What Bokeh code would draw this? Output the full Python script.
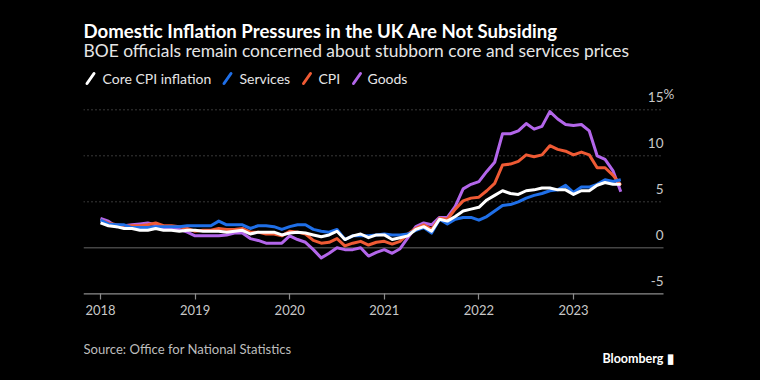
import numpy as np
from bokeh.plotting import figure
from bokeh.layouts import column
from bokeh.models import (Label, LabelSet, Arrow, FixedTicker, ColumnDataSource)
from bokeh.core.properties import value
from bokeh.embed import file_html
from bokeh.resources import INLINE

# ---------------- data (monthly, Jan 2018 - Jul 2023, % y/y) ----------------
start_year = 2018
core = [2.7, 2.4, 2.3, 2.1, 2.1, 1.9, 1.9, 2.1, 1.9, 1.9, 1.8, 1.9,
        1.9, 1.8, 1.8, 1.8, 1.7, 1.8, 1.9, 1.5, 1.7, 1.7, 1.7, 1.4,
        1.6, 1.7, 1.6, 1.4, 1.2, 1.4, 1.8, 0.9, 1.3, 1.5, 1.1, 1.4,
        1.4, 0.9, 1.1, 1.3, 2.0, 2.3, 1.8, 3.1, 2.9, 3.4, 4.0, 4.2,
        4.4, 5.2, 5.7, 6.2, 5.9, 5.8, 6.2, 6.3, 6.5, 6.5, 6.3, 6.3,
        5.8, 6.2, 6.2, 6.8, 7.1, 6.9, 6.9]
services = [3.0, 2.6, 2.5, 2.5, 2.2, 2.2, 2.2, 2.3, 2.3, 2.3, 2.3, 2.4,
            2.4, 2.4, 2.4, 2.9, 2.5, 2.5, 2.5, 2.1, 2.4, 2.4, 2.3, 2.0,
            2.3, 2.5, 2.5, 2.0, 1.8, 1.7, 2.0, 0.9, 1.3, 1.3, 1.3, 1.4,
            1.5, 1.4, 1.4, 1.5, 1.9, 2.2, 1.6, 3.1, 2.6, 3.1, 3.3, 3.3,
            3.0, 3.4, 4.0, 4.6, 4.7, 5.0, 5.4, 5.7, 5.9, 6.2, 6.3, 6.8,
            6.0, 6.6, 6.6, 6.9, 7.4, 7.2, 7.4]
cpi = [3.0, 2.7, 2.5, 2.4, 2.4, 2.4, 2.5, 2.7, 2.4, 2.4, 2.3, 2.1,
       1.8, 1.9, 1.9, 2.1, 2.0, 2.0, 2.1, 1.7, 1.7, 1.5, 1.5, 1.3,
       1.8, 1.7, 1.5, 0.8, 0.5, 0.6, 1.0, 0.2, 0.5, 0.7, 0.3, 0.6,
       0.7, 0.4, 0.7, 1.5, 2.1, 2.5, 2.0, 3.2, 3.1, 4.2, 5.1, 5.4,
       5.5, 6.2, 7.0, 9.0, 9.1, 9.4, 10.1, 9.9, 10.1, 11.1, 10.7, 10.5,
       10.1, 10.4, 10.1, 8.7, 8.7, 7.9, 6.8]
goods = [3.2, 2.9, 2.3, 2.4, 2.5, 2.6, 2.7, 2.5, 2.1, 2.1, 2.0, 1.7,
         1.3, 1.3, 1.3, 1.3, 1.4, 1.6, 1.6, 1.0, 0.8, 0.5, 0.5, 0.5,
         1.3, 0.9, 0.6, -0.2, -1.1, -0.6, 0.0, -0.2, -0.2, 0.0, -0.9, -0.5,
         -0.2, -0.6, -0.1, 1.1, 2.3, 2.7, 2.5, 3.3, 3.3, 4.5, 6.4, 6.9,
         7.2, 8.3, 9.3, 12.4, 12.4, 12.7, 13.5, 12.9, 13.2, 14.8, 14.0, 13.4,
         13.3, 13.4, 12.7, 10.0, 9.6, 8.4, 6.1]

series_names = ["Core CPI inflation", "Services", "CPI", "Goods"]
series_colors = ["#ffffff", "#1f6fe8", "#ef5a34", "#b366ea"]

x_ticks = [2018, 2019, 2020, 2021, 2022, 2023]
x_tick_labels = ["2018", "2019", "2020", "2021", "2022", "2023"]
y_ticks = [-5, 0, 5, 10, 15]
y_tick_labels = ["-5", "0", "5", "10", "15"]
grid_values = [5, 10, 15]

title = "Domestic Inflation Pressures in the UK Are Not Subsiding"
subtitle = "BOE officials remain concerned about stubborn core and services prices"
source = "Source: Office for National Statistics"
brand = "Bloomberg"

# ---------------- layout constants ----------------
W, H = 760, 380
H_MAIN = 322                  # main figure height; footer figure below
FONT = "Lato"
FL = 83                       # frame left (px)
FB = 296                      # frame bottom (px from top)
x0, x1 = 2017.8203, 2024.9767  # frame spans the full width right of 83px
x_grid_end = 2023.9514         # where gridlines / axis stop
y0, y1 = -5.2935, 26.88
BG = "#000000"

p = figure(width=W, height=H_MAIN, output_backend="svg", toolbar_location=None,
           x_range=(x0, x1), y_range=(y0, y1), y_axis_location=None,
           min_border_left=FL, min_border_right=0,
           min_border_top=0, min_border_bottom=H_MAIN - FB)
p.background_fill_color = BG
p.border_fill_color = BG
p.outline_line_color = None
p.xgrid.visible = False
p.ygrid.visible = False

# dotted gridlines, zero line, baseline (drawn through the data scales)
p.segment(x0=x0, x1=x_grid_end, y0=grid_values, y1=grid_values,
          line_color="#707070", line_dash="1 3", line_width=1)
p.segment(x0=x0, x1=x_grid_end, y0=0, y1=0, line_color="#454545", line_width=1.5)
p.segment(x0=x0, x1=x_grid_end, y0=y_ticks[0], y1=y_ticks[0],
          line_color="#8c8c8c", line_width=1.2)

# x axis (ticks + labels)
xa = p.xaxis[0]
xa.ticker = FixedTicker(ticks=x_ticks)
xa.major_label_overrides = {t: l for t, l in zip(x_ticks, x_tick_labels)}
xa.axis_line_color = None
xa.major_tick_line_color = "#8c8c8c"
xa.major_tick_line_width = 1.2
xa.major_tick_out = 3
xa.major_tick_in = 3
xa.minor_tick_line_color = None
xa.major_label_text_color = "#c8c8c8"
xa.major_label_text_font = FONT
xa.major_label_text_font_size = "13px"
xa.major_label_standoff = 5

# lines
months = np.arange(len(core))
xs = start_year + months / 12.0
data = [core, services, cpi, goods]
for vals, col in reversed(list(zip(data, series_colors))):
    p.line(xs, vals, line_color=col, line_width=3, line_join="round")

# y tick labels (above gridlines, right aligned)
ysrc = ColumnDataSource(dict(x=[x_grid_end] * len(y_ticks), y=y_ticks,
                             t=y_tick_labels))
p.add_layout(LabelSet(x="x", y="y", text="t", source=ysrc, text_align="right",
                      text_baseline="bottom", y_offset=8,
                      text_color="#c8c8c8", text_font=value(FONT),
                      text_font_size="13.5px"))
p.add_layout(Label(x=x_grid_end, y=y_ticks[-1], text="%", text_align="left",
                   text_baseline="bottom", y_offset=8, text_color="#c8c8c8",
                   text_font=FONT, text_font_size="13.5px"))

# titles (screen units: relative to frame, y measured up from frame bottom)
p.add_layout(Label(x=0, y=FB - 30, x_units="screen", y_units="screen",
                   text=title, text_color="#ffffff", text_font=FONT,
                   text_font_style="bold", text_font_size="18.6px",
                   text_baseline="middle"))
p.add_layout(Label(x=0, y=FB - 50, x_units="screen", y_units="screen",
                   text=subtitle, text_color="#e6e6e6", text_font=FONT,
                   text_font_size="17.4px", text_baseline="middle"))

# legend
leg_text_x = [19, 156, 235, 284]
leg_slash_x = [3.5, 140.5, 220, 270]
for name, col, tx, sx in zip(series_names, series_colors, leg_text_x, leg_slash_x):
    p.add_layout(Arrow(end=None, x_start=sx, y_start=FB - 83, x_end=sx + 7,
                       y_end=FB - 73, start_units="screen", end_units="screen",
                       line_color=col, line_width=3, line_cap="round"))
    p.add_layout(Label(x=tx, y=FB - 78, x_units="screen", y_units="screen",
                       text=name, text_color="#e6e6e6", text_font=FONT,
                       text_font_size="14px", text_baseline="middle"))

# ---------------- footer (source + brand) ----------------
# (its frame is aligned by the column layout with the main frame: left = FL)
H_FOOT = H - H_MAIN
f = figure(width=W, height=H_FOOT, output_backend="svg", toolbar_location=None,
           x_range=(0, 1), y_range=(0, 1), x_axis_location=None,
           y_axis_location=None, min_border=0)
f.background_fill_color = BG
f.border_fill_color = BG
f.outline_line_color = None
f.xgrid.visible = False
f.ygrid.visible = False
f.add_layout(Label(x=0, y=H - 348, x_units="screen", y_units="screen",
                   text=source, text_color="#bdbdbd", text_font=FONT,
                   text_font_size="13.1px", text_baseline="middle"))
f.add_layout(Label(x=673 - FL, y=H - 358, x_units="screen", y_units="screen",
                   text=brand + " \u25AE", text_color="#ffffff", text_font=FONT,
                   text_font_style="bold", text_font_size="12.5px",
                   text_align="right", text_baseline="middle"))

layout = column(p, f, spacing=0)
layout.styles = {"background-color": BG}
html = file_html(layout, INLINE)
html = html.replace("</head>",
                    "<style>html, body { background-color: #000000 !important; }</style></head>", 1)
open("out.html", "w").write(html)
